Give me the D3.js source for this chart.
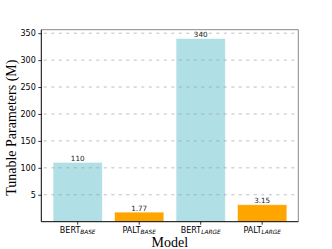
<!DOCTYPE html>
<head>
	<meta charset="utf-8">
	<title>Tunable Parameters</title>
	<script src="https://d3js.org/d3.v7.min.js"></script>
	<style>
		body { margin: 0; background: #fff; }
		.tick text { font-family: "DejaVu Sans", sans-serif; font-size: 8px; fill: #000; }
		.axis-title { font-family: "Liberation Serif", serif; font-size: 14px; fill: #000; }
		.bar-label { font-family: "DejaVu Sans", sans-serif; font-size: 7.2px; fill: #222; }
	</style>
</head>
<body>
<div id="viz"></div>
<script>
// data
var models = ["BERT", "PALT", "BERT", "PALT"];
var modelSubs = ["BASE", "BASE", "LARGE", "LARGE"];
var barHeights = [110, 17.7, 340, 31.5];      // drawn heights
var barLabels = ["110", "1.77", "340", "3.15"]; // printed on the bars
var barColors = ["#b0dfe5", "#ffa500", "#b0dfe5", "#ffa500"];
var yTicks = [50, 100, 150, 200, 250, 300, 350];
var yTickLabels = ["5", "100", "150", "200", "250", "300", "350"];

var margin = {top: 29.7, right: 33.7, bottom: 27.3, left: 41.3};
var width = 332 - margin.left - margin.right;
var height = 249 - margin.top - margin.bottom;

var svg = d3.select("#viz")
	.append("svg")
	.attr("width", 332)
	.attr("height", 249)
	.append("g")
	.attr("transform", "translate(" + margin.left + "," + margin.top + ")");

var idx = d3.range(models.length);

var x = d3.scaleBand()
	.domain(idx)
	.range([5.65, 251.65])
	.paddingInner(0.2)
	.paddingOuter(0.1);

var y = d3.scaleLinear()
	.domain([0, 356.5])
	.range([height, 0]);

// bars
svg.selectAll(".bar")
	.data(idx)
	.enter().append("rect")
	.attr("class", "bar")
	.attr("x", function(i) { return x(i); })
	.attr("width", x.bandwidth())
	.attr("y", function(i) { return y(barHeights[i]); })
	.attr("height", function(i) { return height - y(barHeights[i]); })
	.style("fill", function(i) { return barColors[i]; })
	.style("stroke", "#fff")
	.style("stroke-opacity", 0.5)
	.style("stroke-width", 0.8);

// dashed grid, drawn over the bars
svg.selectAll(".grid")
	.data(yTicks)
	.enter().append("line")
	.attr("x1", 2.5)
	.attr("x2", width)
	.attr("y1", function(d) { return y(d); })
	.attr("y2", function(d) { return y(d); })
	.style("stroke", "#999")
	.style("stroke-opacity", 0.8)
	.style("stroke-width", 0.8)
	.style("stroke-dasharray", "3,4.5");

// value labels
svg.selectAll(".bar-label")
	.data(idx)
	.enter().append("text")
	.attr("class", "bar-label")
	.attr("x", function(i) { return x(i) + x.bandwidth() / 2; })
	.attr("y", function(i) { return y(barHeights[i]) - 1.5; })
	.attr("text-anchor", "middle")
	.text(function(i) { return barLabels[i]; });

// frame: top and right in grey
svg.append("line").attr("x1", 0).attr("x2", width).attr("y1", 0).attr("y2", 0)
	.style("stroke", "#888").style("stroke-width", 1);
svg.append("line").attr("x1", width).attr("x2", width).attr("y1", 0).attr("y2", height)
	.style("stroke", "#888").style("stroke-width", 1);

// y axis
var yAxis = svg.append("g")
	.call(d3.axisLeft(y)
		.tickValues(yTicks)
		.tickSize(3)
		.tickPadding(2.5)
		.tickFormat(function(d, i) { return yTickLabels[i]; }));
yAxis.select(".domain").attr("d", "M0," + height + "V0").style("stroke", "#000").style("stroke-width", 1);
yAxis.selectAll(".tick line").style("stroke", "#000").style("stroke-width", 0.8);

// x axis
var xAxis = svg.append("g")
	.attr("transform", "translate(0," + height + ")")
	.call(d3.axisBottom(x).tickSize(3).tickPadding(3).tickFormat(""));
xAxis.select(".domain").attr("d", "M0,0H" + width).style("stroke", "#000").style("stroke-width", 1);
xAxis.selectAll(".tick line").style("stroke", "#000").style("stroke-width", 0.8);

var tl = xAxis.selectAll(".tick").append("text")
	.attr("y", 11.2)
	.attr("text-anchor", "middle");
tl.append("tspan").text(function(i) { return models[i]; });
tl.append("tspan")
	.attr("dy", 1.6)
	.style("font-size", "5.8px")
	.style("font-style", "italic")
	.text(function(i) { return modelSubs[i]; });

// axis titles
svg.append("text")
	.attr("class", "axis-title")
	.attr("x", width / 2)
	.attr("y", height + 25)
	.attr("text-anchor", "middle")
	.text("Model");

svg.append("text")
	.attr("class", "axis-title")
	.attr("transform", "translate(" + (-25.5) + "," + (height / 2 + 2) + ") rotate(-90)")
	.attr("text-anchor", "middle")
	.text("Tunable Parameters (M)");
</script>
</body>
</html>
